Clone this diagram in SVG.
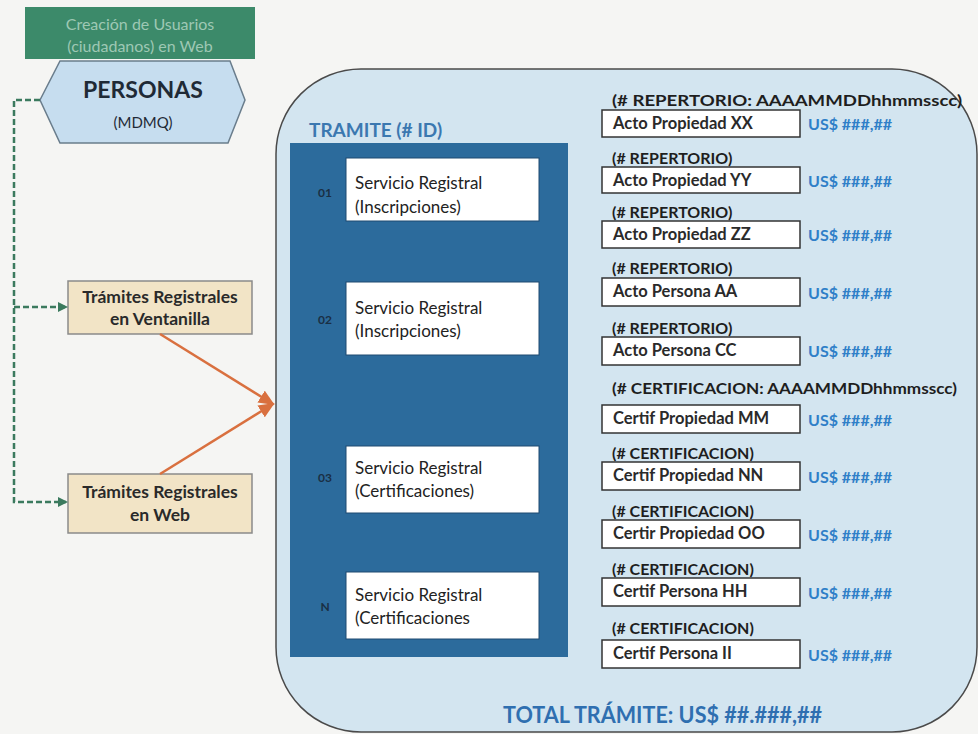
<svg xmlns="http://www.w3.org/2000/svg" width="978" height="734" viewBox="0 0 978 734">
<defs>
<style>
text{font-family:Lato,"Liberation Sans",sans-serif}
.green{fill:#3c8a6a}
.gtxt{fill:#9ec8b4;font-size:16px}
.tram{fill:#f2e4c6;stroke:#8a8a8a;stroke-width:1.5}
.tramtxt{fill:#2a2a2a;font-size:17.5px;font-weight:bold;text-anchor:middle}
.svc{fill:#ffffff;stroke:#1e4a70;stroke-width:1}
.svctxt{fill:#222;font-size:17px}
.num{fill:#1a2f44;font-size:12px;font-weight:bold;text-anchor:middle}
.act{fill:#ffffff;stroke:#333;stroke-width:1.5}
.acttxt{fill:#2a2a2a;font-size:16.5px;font-weight:bold}
.lbl{fill:#1e1e1e;font-size:16px;font-weight:bold}
.usd{fill:#2f7fc8;font-size:16px;font-weight:bold}
</style>
<marker id="ah" markerWidth="10" markerHeight="10" refX="8" refY="5" orient="auto" markerUnits="userSpaceOnUse">
<path d="M0,0 L10,5 L0,10 Z" fill="#3b7a5e"/>
</marker>
<marker id="ao" markerWidth="16" markerHeight="14" refX="14" refY="7" orient="auto" markerUnits="userSpaceOnUse">
<path d="M0,0 L16,7 L0,14 Z" fill="#d9703f"/>
</marker>
</defs>
<rect x="0" y="0" width="978" height="734" fill="#f5f5f3"/>

<g id="creacion-usuarios">
<rect class="green" x="25" y="7" width="230" height="52"/>
<text class="gtxt" x="140" y="30" text-anchor="middle">Creación de Usuarios</text>
<text class="gtxt" x="140" y="52" text-anchor="middle">(ciudadanos) en Web</text>
</g>

<g id="personas">
<polygon points="40,100 60,61 230,61 245,100 228,143 60,143" fill="#c6ddef" stroke="#6a7d8c" stroke-width="1.5"/>
<text x="143" y="98" text-anchor="middle" font-size="23" font-weight="bold" fill="#1f2a36">PERSONAS</text>
<text x="143" y="128" text-anchor="middle" font-size="15" fill="#1f2a36">(MDMQ)</text>
</g>

<g id="tramite-box">
<rect x="276" y="69" width="701" height="663" rx="85" ry="85" fill="#d3e5f0" stroke="#4a4a4a" stroke-width="1.5"/>
<text x="309" y="137" font-size="19" font-weight="bold" fill="#3b78b0">TRAMITE (# ID)</text>
<rect x="290" y="143" width="278" height="514" fill="#2c6b9c"/>
</g>

<g id="ventanilla">
<rect class="tram" x="68" y="281" width="184" height="53"/>
<text class="tramtxt" x="160" y="303">Trámites Registrales</text>
<text class="tramtxt" x="160" y="325">en Ventanilla</text>
</g>

<g id="web">
<rect class="tram" x="68" y="474" width="184" height="59"/>
<text class="tramtxt" x="160" y="498">Trámites Registrales</text>
<text class="tramtxt" x="160" y="521">en Web</text>
</g>

<g id="servicio-01">
<text class="num" x="325" y="197">01</text>
<rect class="svc" x="346" y="158" width="193" height="63"/>
<text class="svctxt" x="355" y="189">Servicio Registral</text>
<text class="svctxt" x="355" y="213">(Inscripciones)</text>
</g>
<g id="servicio-02">
<text class="num" x="325" y="324">02</text>
<rect class="svc" x="346" y="282" width="193" height="73"/>
<text class="svctxt" x="355" y="314">Servicio Registral</text>
<text class="svctxt" x="355" y="337">(Inscripciones)</text>
</g>
<g id="servicio-03">
<text class="num" x="325" y="482">03</text>
<rect class="svc" x="346" y="446" width="193" height="67"/>
<text class="svctxt" x="355" y="474">Servicio Registral</text>
<text class="svctxt" x="355" y="497">(Certificaciones)</text>
</g>
<g id="servicio-n">
<text class="num" x="325" y="611">N</text>
<rect class="svc" x="346" y="572" width="193" height="67"/>
<text class="svctxt" x="355" y="601">Servicio Registral</text>
<text class="svctxt" x="355" y="624">(Certificaciones</text>
</g>

<g id="acto-xx">
<text class="lbl" x="612" y="106" textLength="350" lengthAdjust="spacingAndGlyphs">(# REPERTORIO: AAAAMMDDhhmmsscc)</text>
<rect class="act" x="602" y="110" width="198" height="27"/>
<text class="acttxt" x="613" y="129">Acto Propiedad XX</text>
<text class="usd" x="808" y="130">US$ ###,##</text>
</g>
<g id="acto-yy">
<text class="lbl" x="612" y="164">(# REPERTORIO)</text>
<rect class="act" x="602" y="167" width="198" height="26"/>
<text class="acttxt" x="613" y="186">Acto Propiedad YY</text>
<text class="usd" x="808" y="187">US$ ###,##</text>
</g>
<g id="acto-zz">
<text class="lbl" x="612" y="218">(# REPERTORIO)</text>
<rect class="act" x="602" y="221" width="198" height="27"/>
<text class="acttxt" x="613" y="240">Acto Propiedad ZZ</text>
<text class="usd" x="808" y="241">US$ ###,##</text>
</g>
<g id="acto-aa">
<text class="lbl" x="612" y="274">(# REPERTORIO)</text>
<rect class="act" x="602" y="278" width="198" height="28"/>
<text class="acttxt" x="613" y="297">Acto Persona AA</text>
<text class="usd" x="808" y="299">US$ ###,##</text>
</g>
<g id="acto-cc">
<text class="lbl" x="612" y="334">(# REPERTORIO)</text>
<rect class="act" x="602" y="337" width="198" height="28"/>
<text class="acttxt" x="613" y="356">Acto Persona CC</text>
<text class="usd" x="808" y="357">US$ ###,##</text>
</g>
<g id="certif-mm">
<text class="lbl" x="612" y="394" textLength="345" lengthAdjust="spacingAndGlyphs">(# CERTIFICACION: AAAAMMDDhhmmsscc)</text>
<rect class="act" x="602" y="405" width="198" height="28"/>
<text class="acttxt" x="613" y="424">Certif Propiedad MM</text>
<text class="usd" x="808" y="426">US$ ###,##</text>
</g>
<g id="certif-nn">
<text class="lbl" x="612" y="459">(# CERTIFICACION)</text>
<rect class="act" x="602" y="462" width="198" height="28"/>
<text class="acttxt" x="613" y="481">Certif  Propiedad NN</text>
<text class="usd" x="808" y="483">US$ ###,##</text>
</g>
<g id="certif-oo">
<text class="lbl" x="612" y="517">(# CERTIFICACION)</text>
<rect class="act" x="602" y="520" width="198" height="28"/>
<text class="acttxt" x="613" y="539">Certir  Propiedad OO</text>
<text class="usd" x="808" y="541">US$ ###,##</text>
</g>
<g id="certif-hh">
<text class="lbl" x="612" y="575">(# CERTIFICACION)</text>
<rect class="act" x="602" y="578" width="198" height="28"/>
<text class="acttxt" x="613" y="597">Certif  Persona HH</text>
<text class="usd" x="808" y="599">US$ ###,##</text>
</g>
<g id="certif-ii">
<text class="lbl" x="612" y="634">(# CERTIFICACION)</text>
<rect class="act" x="602" y="640" width="198" height="28"/>
<text class="acttxt" x="613" y="659">Certif  Persona II</text>
<text class="usd" x="808" y="661">US$ ###,##</text>
</g>

<g id="total">
<text x="503" y="723" font-size="22" font-weight="bold" fill="#2f6fb0" textLength="319" lengthAdjust="spacingAndGlyphs">TOTAL TRÁMITE: US$ ##.###,##</text>
</g>

<g id="connectors">
<polyline points="40,100 14,100 14,502 66,502" fill="none" stroke="#3b7a5e" stroke-width="2.5" stroke-dasharray="6,3" marker-end="url(#ah)"/>
<line x1="14" y1="307" x2="66" y2="307" stroke="#3b7a5e" stroke-width="2.5" stroke-dasharray="6,3" marker-end="url(#ah)"/>
<line x1="160" y1="334" x2="273" y2="404" stroke="#d9703f" stroke-width="2.5" marker-end="url(#ao)"/>
<line x1="160" y1="474" x2="273" y2="404" stroke="#d9703f" stroke-width="2.5" marker-end="url(#ao)"/>
</g>
</svg>
